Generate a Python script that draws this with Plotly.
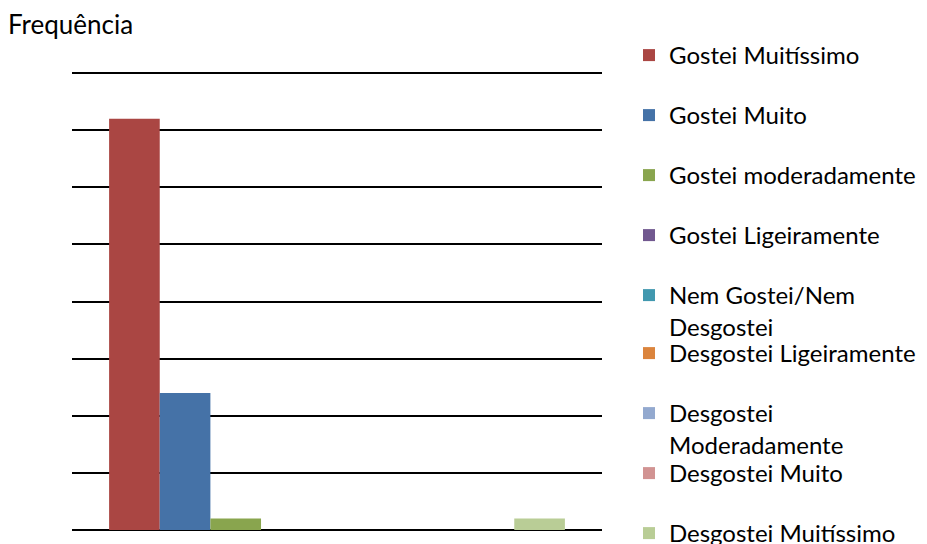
import plotly.graph_objects as go

categories = [""]
series_names = [
    "Gostei Muitíssimo",
    "Gostei Muito",
    "Gostei moderadamente",
    "Gostei Ligeiramente",
    "Nem Gostei/Nem<br>Desgostei",
    "Desgostei Ligeiramente",
    "Desgostei<br>Moderadamente",
    "Desgostei Muito",
    "Desgostei Muitíssimo",
]
series_values = [36, 12, 1, 0, 0, 0, 0, 0, 1]
colors = ["#AA4643", "#4572A7", "#89A54E", "#71588F", "#4198AF",
          "#DB843D", "#93A9CF", "#D19392", "#B9CD96"]
y_title = "Frequência"

# legend row centers (pixels from top) for first text line
legend_rows = [56, 116, 176, 236, 296, 354, 414, 474, 534]

W, H = 927, 544
FONT = "Lato"
FS = 24

fig = go.Figure()
layout_legends = {}
for i, (name, val, col, row) in enumerate(zip(series_names, series_values, colors, legend_rows)):
    key = "legend" if i == 0 else f"legend{i+1}"
    fig.add_trace(go.Bar(
        x=categories, y=[val], name=name, marker_color=col,
        marker_line_width=0, legend=key,
    ))
    layout_legends[key] = dict(
        xref="container", yref="container",
        x=629 / W, y=1 - (row - 23) / H,
        xanchor="left", yanchor="top",
        valign="top",
        font=dict(family=FONT, size=FS, color="#000000"),
        bgcolor="rgba(0,0,0,0)", borderwidth=0,
        itemwidth=30,
    )

fig.update_layout(
    width=W, height=H,
    margin=dict(l=72, r=W - 602, t=72, b=H - 530),
    paper_bgcolor="white", plot_bgcolor="white",
    barmode="group", bargap=0.14, bargroupgap=0,
    font=dict(family=FONT, size=FS, color="#000000"),
    showlegend=True,
    **layout_legends,
)
fig.update_xaxes(showticklabels=False, showgrid=False, zeroline=False,
                 showline=False, ticks="")
fig.update_yaxes(range=[0, 40.09], tickvals=[0, 5, 10, 15, 20, 25, 30, 35, 40],
                 showticklabels=False,
                 showgrid=True, gridcolor="#000000", gridwidth=2,
                 zeroline=True, zerolinecolor="#000000", zerolinewidth=2,
                 showline=False, ticks="")
fig.add_annotation(
    text=y_title, xref="paper", yref="paper",
    x=-72 / 530, y=1 + (72 - 24) / 458,
    xanchor="left", yanchor="middle", showarrow=False,
    xshift=6,
    font=dict(family=FONT, size=26, color="#000000"),
)

fig.write_html("out.html")
